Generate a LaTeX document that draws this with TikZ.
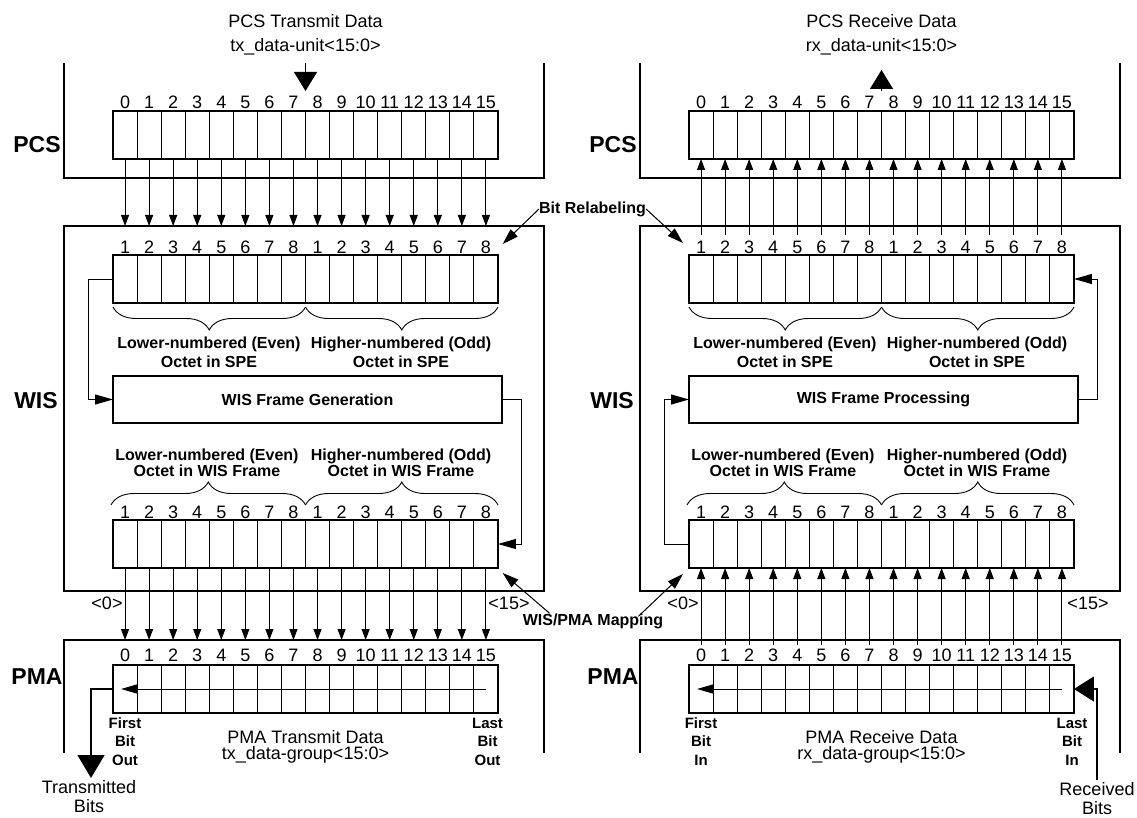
\documentclass[tikz,border=0pt]{standalone}
\usepackage{fontspec}
\setmainfont{Liberation Sans}
\usetikzlibrary{arrows.meta,decorations.pathreplacing,calc}
\begin{document}
\begin{tikzpicture}[x=1pt,y=-1pt,
  cell/.style={draw,line width=1.1pt,minimum width=24.06pt,minimum height=48pt,inner sep=0pt,outer sep=0pt},
  layer/.style={line width=2.4pt},
  num/.style={font=\fontsize{18}{18}\selectfont,inner sep=0pt},
  lbl/.style={font=\fontsize{18}{19}\selectfont,inner sep=0pt,align=center},
  blk/.style={font=\fontsize{23}{23}\selectfont\bfseries,inner sep=0pt},
  oct/.style={font=\fontsize{16}{18.5}\selectfont\bfseries,inner sep=0pt,align=center},
  octw/.style={font=\fontsize{16}{16.5}\selectfont\bfseries,inner sep=0pt,align=center},
  bitlbl/.style={font=\fontsize{15}{18.5}\selectfont\bfseries,inner sep=0pt,align=center},
  framebox/.style={draw,line width=1.1pt,minimum width=389pt,minimum height=47pt,inner sep=0pt,outer sep=0pt,font=\fontsize{16}{16}\selectfont\bfseries},
  bitarrow/.style={line width=1pt,-{Triangle[width=8pt,length=11pt]}},
  fb/.style={line width=1pt,-{Triangle[width=10pt,length=18pt]}},
  ptr/.style={line width=1pt,-{Triangle[width=10pt,length=16pt]}},
  pmaarrow/.style={line width=1pt,-{Triangle[width=9pt,length=16pt]}},
  bigarrow/.style={line width=1.2pt,-{Triangle[width=23pt,length=19pt]}},
  brc/.style={decorate,decoration={brace,amplitude=23pt},line width=0.9pt},
]
\useasboundingbox (0,0) rectangle (1137,818);

\foreach \s/\o/\ftxt in {L/0/Generation,R/576/Processing}{
  % layer outlines
  \draw[layer] (64+\o,63) -- (64+\o,178) -- (544+\o,178) -- (544+\o,63);
  \draw[layer] (64+\o,226) rectangle (544+\o,591);
  \draw[layer] (64+\o,753) -- (64+\o,640) -- (544+\o,640) -- (544+\o,753);
  \coordinate (\s-pcsB) at (64+\o,178);
  \coordinate (\s-wisT) at (64+\o,226);
  \coordinate (\s-pmaT) at (64+\o,640);
  \node[blk] (\s-lpcs) at (37+\o,145) {PCS};
  \node[blk] (\s-lwis) at (36+\o,401) {WIS};
  \node[blk] (\s-lpma) at (37+\o,677) {PMA};
  % registers
  \foreach \i in {0,...,15}{
    \pgfmathsetmacro\cx{113+\o+24.06*(\i+0.5)}
    \pgfmathtruncatemacro\k{mod(\i,8)+1}
    \node[cell] (\s-P-\i) at (\cx,135) {};
    \node[cell] (\s-W-\i) at (\cx,279) {};
    \node[cell] (\s-X-\i) at (\cx,544) {};
    \node[cell] (\s-M-\i) at (\cx,689) {};
    \node[num] (\s-nP-\i) at (\cx,102) {\i};
    \node[num] (\s-nW-\i) at (\cx,247) {\k};
    \node[num] (\s-nX-\i) at (\cx,512) {\k};
    \node[num] (\s-nM-\i) at (\cx,655) {\i};
  }
  % frame box
  \node[framebox] (\s-F) at (307.5+\o,399.5) {WIS Frame \ftxt};
  % braces
  \draw[brc,decoration={mirror}] (113+\o,307) -- (305.5+\o,307);
  \draw[brc,decoration={mirror}] (305.5+\o,307) -- (498+\o,307);
  \draw[brc] (111+\o,505) -- (305.5+\o,505);
  \draw[brc] (305.5+\o,505) -- (498+\o,505);
  \node[oct] (\s-o1) at (209+\o,352.5) {Lower-numbered (Even)\\Octet in SPE};
  \node[oct] (\s-o2) at (401+\o,352.5) {Higher-numbered (Odd)\\Octet in SPE};
  \node[octw] (\s-o3) at (207+\o,463) {Lower-numbered (Even)\\Octet in WIS Frame};
  \node[octw] (\s-o4) at (401+\o,463) {Higher-numbered (Odd)\\Octet in WIS Frame};
  \node[num] (\s-z0) at (107+\o,603) {<0>};
  % PMA internal shift arrow
  \draw[pmaarrow] (\s-M-15.center) -- ($(\s-M-0.center)+(-4,0)$);
}
\node[num] (L-z15) at (509,603) {<15>};
\node[num] (R-z15) at (1088,603) {<15>};

% bit connectors
\foreach \i in {0,...,15}{
  \draw[bitarrow] (L-P-\i.south) -- (L-P-\i.south |- L-wisT);
  \draw[bitarrow] (L-X-\i.south) -- (L-X-\i.south |- L-pmaT);
  \draw[bitarrow] ($(R-P-\i.south |- R-wisT)+(0,9)$) -- (R-P-\i.south);
  \draw[bitarrow] ($(R-X-\i.south |- R-pmaT)+(0,5)$) -- (R-X-\i.south);
}

% feedback paths
\draw[fb] (L-W-0.west) -- ++(-24.4,0) |- (L-F.west);
\draw[fb] (L-F.east) -- ++(19.4,0) |- (L-X-15.east);
\draw[fb] (R-X-0.west) -- ++(-24.4,0) |- (R-F.west);
\draw[fb] (R-F.east) -- ++(19.4,0) |- (R-W-15.east);

% top titles and arrows
\node[lbl] (L-t1) at (305.5,21) {PCS Transmit Data};
\node[lbl] (L-t2) at (305.5,47) {tx\_data-unit<15:0>};
\node[lbl] (R-t1) at (881.5,21) {PCS Receive Data};
\node[lbl] (R-t2) at (881.5,47) {rx\_data-unit<15:0>};
\coordinate (L-in) at (305.5,63);
\coordinate (L-inTip) at (305.5,91);
\draw[bigarrow] (L-in) -- (L-inTip);
\coordinate (R-out) at (881.5,91);
\coordinate (R-outTip) at (881.5,70);
\draw[bigarrow] (R-out) -- (R-outTip);

% relabeling / mapping pointers
\node[font=\fontsize{16}{16}\selectfont\bfseries,inner sep=0pt] (relab) at (592.5,209) {Bit Relabeling};
\coordinate (relabL) at (502.7,244);
\coordinate (relabR) at (683,243);
\draw[ptr] (relab.west) -- (relabL);
\draw[ptr] (relab.east) -- (relabR);
\node[font=\fontsize{16}{16}\selectfont\bfseries,inner sep=0pt] (map) at (593,621) {WIS/PMA Mapping};
\coordinate (mapL) at (502.7,573);
\coordinate (mapR) at (683,574);
\draw[ptr] ($(map.north west)+(27,0)$) -- (mapL);
\draw[ptr] ($(map.north east)+(-25,3)$) -- (mapR);

% PMA bottom texts
\node[lbl] (L-pt1) at (305.5,737) {PMA Transmit Data};
\node[lbl] (L-pt2) at (305.5,755) {tx\_data-group<15:0>};
\node[lbl] (R-pt1) at (881.5,737) {PMA Receive Data};
\node[lbl] (R-pt2) at (881.5,755) {rx\_data-group<15:0>};
\node[bitlbl] (L-first) at (125,741.5) {First\\Bit\\Out};
\node[bitlbl] (L-last) at (487.5,741.5) {Last\\Bit\\Out};
\node[bitlbl] (R-first) at (701,741.5) {First\\Bit\\In};
\node[bitlbl] (R-last) at (1072,741.5) {Last\\Bit\\In};

% serial in/out
\coordinate (txEnd) at (91,778);
\draw[line width=1.2pt,-{Triangle[width=27pt,length=23pt]}] (L-M-0.west) -| (txEnd);
\node[lbl] (txl) at (89,797) {Transmitted\\Bits};
\coordinate (rxStart) at (1097,780);
\draw[line width=1.2pt,-{Triangle[width=25pt,length=20pt]}] (rxStart) |- (R-M-15.east);
\node[lbl] (rxl) at (1097,799) {Received\\Bits};
\end{tikzpicture}
\end{document}
